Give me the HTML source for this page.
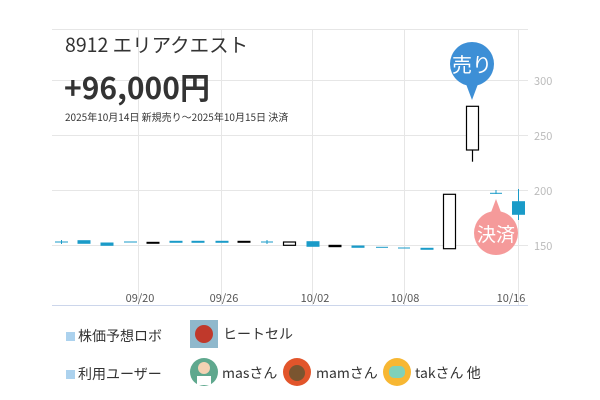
<!DOCTYPE html><html><head><meta charset="utf-8"><style>
body{margin:0;background:#fff;width:600px;height:400px;overflow:hidden;font-family:"Noto Sans CJK JP","Liberation Sans",sans-serif}
</style></head><body>
<svg width="600" height="400" xmlns="http://www.w3.org/2000/svg" style="position:absolute;left:0;top:0;font-family:'Noto Sans CJK JP','Liberation Sans',sans-serif">
<g stroke="#e6e6e6" stroke-width="1">
<line x1="52" y1="29.5" x2="528" y2="29.5"/>
<line x1="52" y1="80.5" x2="528" y2="80.5"/>
<line x1="52" y1="135.5" x2="528" y2="135.5"/>
<line x1="52" y1="190.5" x2="528" y2="190.5"/>
<line x1="52" y1="245.5" x2="528" y2="245.5"/>
<line x1="138.5" y1="29" x2="138.5" y2="305"/>
<line x1="221.5" y1="29" x2="221.5" y2="305"/>
<line x1="312.5" y1="29" x2="312.5" y2="305"/>
<line x1="404.5" y1="29" x2="404.5" y2="305"/>
<line x1="518.5" y1="29" x2="518.5" y2="305"/>
</g>
<line x1="52" y1="305.5" x2="528" y2="305.5" stroke="#ccd6eb"/>
<g font-size="11" fill="#bbb">
<text x="534" y="85">300</text><text x="534" y="140">250</text><text x="534" y="195">200</text><text x="534" y="250">150</text>
</g>
<g font-size="11" fill="#555" text-anchor="middle">
<text x="140" y="302">09/20</text><text x="224" y="302">09/26</text><text x="315" y="302">10/02</text><text x="405" y="302">10/08</text><text x="511" y="302">10/16</text>
</g>
<g fill="#1a9bc8" stroke="#1a9bc8">
<line x1="55" y1="242" x2="68" y2="242"/><line x1="61.5" y1="240" x2="61.5" y2="244"/>
<rect x="78" y="240.7" width="12" height="2.6"/>
<rect x="101" y="243" width="12" height="2.3"/>
<line x1="124" y1="242" x2="137" y2="242"/>
<rect x="170" y="241.3" width="12" height="1"/>
<rect x="192" y="241.3" width="12" height="1"/>
<rect x="216" y="241.3" width="12" height="1"/>
<line x1="261" y1="242" x2="273" y2="242"/><line x1="267" y1="240" x2="267" y2="244"/>
<rect x="307" y="241.7" width="12" height="4.6"/>
<rect x="352" y="246" width="12" height="1.3"/>
<line x1="376" y1="247.3" x2="388" y2="247.3"/>
<line x1="398" y1="248" x2="410" y2="248"/>
<rect x="421" y="248.3" width="12" height="1"/>
<line x1="490" y1="193.3" x2="502" y2="193.3"/><line x1="496" y1="190" x2="496" y2="194"/>
<line x1="518.5" y1="189" x2="518.5" y2="220"/>
<rect x="512.5" y="201.7" width="12" height="12.6"/>
</g>
<g fill="#000" stroke="#000">
<rect x="147" y="242.3" width="12" height="1"/>
<rect x="238" y="241.3" width="12" height="1"/>
<rect x="329" y="245.3" width="12" height="1.4"/>
</g>
<g fill="#fff" stroke="#000" stroke-width="1.2">
<rect x="283.5" y="242" width="12" height="3.3"/>
<rect x="443.5" y="194.3" width="12" height="54.4"/>
<line x1="472.5" y1="150" x2="472.5" y2="161.7"/>
<rect x="466.5" y="106.3" width="12" height="43.7"/>
</g>
<path d="M466 84 L472 100 L478 84 Z" fill="#3d8fd6"/>
<circle cx="472" cy="64" r="22" fill="#3d8fd6"/>
<text x="472" y="72" font-size="20" fill="#fff" text-anchor="middle">売り</text>
<path d="M490 215 L496 199 L502 215 Z" fill="#f59a9a"/>
<circle cx="496" cy="233" r="22" fill="#f59a9a"/>
<text x="496" y="241" font-size="19" fill="#fff" text-anchor="middle">決済</text>
<text x="65" y="52" font-size="19.5" fill="#333">8912 エリアクエスト</text>
<text x="64" y="99" font-size="30" font-weight="bold" fill="#333">+96,000円</text>
<text x="65" y="121" font-size="10" fill="#333">2025年10月14日 新規売り～2025年10月15日 決済</text>
<rect x="66" y="332" width="9" height="9" fill="#acd2ee"/>
<text x="78" y="341" font-size="14" fill="#333">株価予想ロボ</text>
<rect x="66" y="370" width="9" height="9" fill="#acd2ee"/>
<text x="78" y="379" font-size="14" fill="#333">利用ユーザー</text>
<rect x="190" y="320" width="28" height="28" fill="#8fb8cc"/>
<circle cx="204" cy="334" r="9" fill="#c0392b"/>
<text x="223" y="339" font-size="14" fill="#333">ヒートセル</text>
<circle cx="204" cy="372" r="14" fill="#5fa88e"/><circle cx="204" cy="368" r="6" fill="#f3d2b3"/><rect x="197" y="376" width="14" height="9" fill="#fff"/>
<text x="222" y="378" font-size="14" fill="#333">masさん</text>
<circle cx="297" cy="372" r="14" fill="#e2552b"/><circle cx="297" cy="373" r="8" fill="#7a5530"/>
<text x="316" y="378" font-size="14" fill="#333">mamさん</text>
<circle cx="397" cy="372" r="14" fill="#f7b733"/><rect x="389" y="366" width="16" height="12" rx="5" fill="#7fd1b9"/>
<text x="415" y="378" font-size="14" fill="#333">takさん 他</text>
</svg>
</body></html>
